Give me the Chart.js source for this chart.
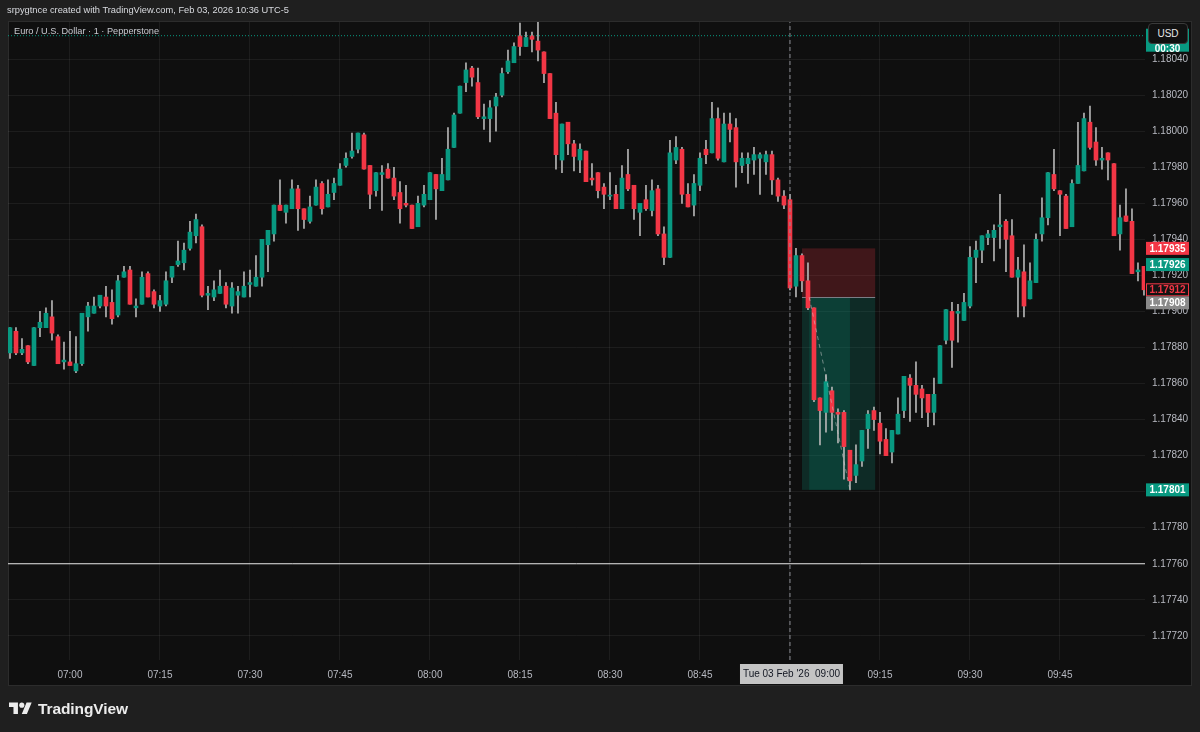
<!DOCTYPE html>
<html>
<head>
<meta charset="utf-8">
<script src="https://cdn.jsdelivr.net/npm/chart.js@4.4.1/dist/chart.umd.min.js"></script>
<style>
    html, body { margin: 0; padding: 0; background: #1f1f1f; }
    #wrap { position: relative; width: 1200px; height: 732px; overflow: hidden; }
    canvas { display: block; }
    .hdr { position: absolute; left: 7px; top: 5px; font: 9.3px 'Liberation Sans', Arial, sans-serif; color: #d9dbe0; white-space: nowrap; }
    .sym { position: absolute; left: 14px; top: 26px; font: 9.2px 'Liberation Sans', Arial, sans-serif; color: #c9cbd1; white-space: nowrap; }
    .usd { position: absolute; left: 1148px; top: 23px; width: 40px; height: 21px; box-sizing: border-box;
           border: 1px solid #3a3a3a; border-radius: 4px; background: #111111; color: #e6e6e6;
           font: 10px 'Liberation Sans', Arial, sans-serif; line-height: 19px; text-align: center; }
    .logo { position: absolute; left: 9px; top: 700px; display: flex; align-items: center; }
    .logo span { font: bold 15.5px 'Liberation Sans', Arial, sans-serif; color: #ececec; margin-left: 6px; letter-spacing: -0.1px; }
</style>
</head>
<body>
<div id="wrap">
    <canvas id="chart" width="1200" height="732"></canvas>
    <div class="hdr">srpygtnce created with TradingView.com, Feb 03, 2026 10:36 UTC-5</div>
    <div class="sym">Euro / U.S. Dollar · 1 · Pepperstone</div>
    <div class="usd">USD</div>
    <div class="logo">
        <svg width="23" height="18" viewBox="0 0 36 28"><path fill="#ececec" d="M14 22H7V11H0V4h14v18zM28 22h-8l7.5-18h8L28 22z"/><circle fill="#ececec" cx="20" cy="8" r="4"/></svg>
        <span>TradingView</span>
    </div>
</div>
<script>
// =============================
// EURUSD 1m candles, 06:50 -> 09:59
// =============================
const firstMinute = -10; // minutes relative to 07:00

const opens = [
    1.17877, 1.17889, 1.17877, 1.17881, 1.17870, 1.17891, 1.17891, 1.17897, 1.17886, 1.17872,
    1.17872, 1.17867, 1.17871, 1.17897, 1.17899, 1.17903, 1.17908, 1.17905, 1.17898, 1.17919,
    1.17923, 1.17902, 1.17904, 1.17921, 1.17911, 1.17903, 1.17904, 1.17919, 1.17926, 1.17927,
    1.17935, 1.17942, 1.17947, 1.17909, 1.17908, 1.17910, 1.17914, 1.17903, 1.17909, 1.17908,
    1.17915, 1.17914, 1.17919, 1.17937, 1.17943, 1.17959, 1.17955, 1.17957, 1.17968, 1.17957,
    1.17950, 1.17959, 1.17971, 1.17958, 1.17966, 1.17970, 1.17981, 1.17986, 1.17990, 1.17998,
    1.17981, 1.17967, 1.17976, 1.17979, 1.17974, 1.17966, 1.17960, 1.17959, 1.17947, 1.17959,
    1.17962, 1.17976, 1.17967, 1.17973, 1.17991, 1.18010, 1.18027, 1.18035, 1.18027, 1.18007,
    1.18007, 1.18014, 1.18020, 1.18033, 1.18038, 1.18053, 1.18047, 1.18053, 1.18050, 1.18044,
    1.18032, 1.18010, 1.17984, 1.18005, 1.17993, 1.17984, 1.17989, 1.17974, 1.17977, 1.17969,
    1.17964, 1.17965, 1.17957, 1.17976, 1.17970, 1.17955, 1.17962, 1.17956, 1.17968, 1.17943,
    1.17930, 1.17984, 1.17990, 1.17965, 1.17959, 1.17970, 1.17990, 1.17988, 1.18007, 1.17983,
    1.18004, 1.18002, 1.17981, 1.17982, 1.17984, 1.17985, 1.17983, 1.17987, 1.17973, 1.17964,
    1.17962, 1.17914, 1.17931, 1.17917, 1.17902, 1.17852, 1.17844, 1.17856, 1.17844, 1.17844,
    1.17823, 1.17809, 1.17817, 1.17835, 1.17845, 1.17838, 1.17829, 1.17822, 1.17832, 1.17845,
    1.17863, 1.17859, 1.17857, 1.17854, 1.17844, 1.17860, 1.17884, 1.17900, 1.17899, 1.17895,
    1.17903, 1.17930, 1.17934, 1.17941, 1.17941, 1.17947, 1.17950, 1.17942, 1.17919, 1.17922,
    1.17907, 1.17916, 1.17943, 1.17952, 1.17976, 1.17967, 1.17964, 1.17947, 1.17971, 1.17978,
    1.18005, 1.17994, 1.17984, 1.17988, 1.17982, 1.17943, 1.17953, 1.17950, 1.17922, 1.17925
];

const highs = [
    1.17891, 1.17891, 1.17885, 1.17881, 1.17891, 1.17900, 1.17902, 1.17906, 1.17887, 1.17883,
    1.17889, 1.17886, 1.17899, 1.17905, 1.17908, 1.17909, 1.17914, 1.17912, 1.17920, 1.17925,
    1.17925, 1.17907, 1.17922, 1.17922, 1.17912, 1.17909, 1.17922, 1.17925, 1.17939, 1.17938,
    1.17950, 1.17954, 1.17948, 1.17914, 1.17917, 1.17923, 1.17916, 1.17916, 1.17914, 1.17922,
    1.17923, 1.17931, 1.17940, 1.17945, 1.17959, 1.17973, 1.17959, 1.17973, 1.17970, 1.17957,
    1.17964, 1.17973, 1.17972, 1.17973, 1.17974, 1.17982, 1.17988, 1.17999, 1.17999, 1.17999,
    1.17981, 1.17977, 1.17981, 1.17982, 1.17980, 1.17972, 1.17970, 1.17959, 1.17964, 1.17970,
    1.17977, 1.17976, 1.17985, 1.18002, 1.18010, 1.18025, 1.18038, 1.18036, 1.18035, 1.18015,
    1.18017, 1.18021, 1.18035, 1.18045, 1.18049, 1.18060, 1.18055, 1.18055, 1.18061, 1.18044,
    1.18032, 1.18016, 1.18004, 1.18005, 1.17995, 1.17993, 1.17989, 1.17982, 1.17977, 1.17971,
    1.17977, 1.17970, 1.17981, 1.17990, 1.17970, 1.17960, 1.17970, 1.17973, 1.17970, 1.17947,
    1.17995, 1.17997, 1.17991, 1.17971, 1.17976, 1.17988, 1.17995, 1.18016, 1.18013, 1.18010,
    1.18010, 1.18007, 1.17988, 1.17988, 1.17991, 1.17988, 1.17989, 1.17989, 1.17974, 1.17967,
    1.17965, 1.17935, 1.17932, 1.17927, 1.17902, 1.17852, 1.17865, 1.17858, 1.17846, 1.17845,
    1.17823, 1.17826, 1.17834, 1.17845, 1.17847, 1.17844, 1.17835, 1.17834, 1.17852, 1.17864,
    1.17865, 1.17872, 1.17859, 1.17854, 1.17863, 1.17881, 1.17901, 1.17905, 1.17904, 1.17910,
    1.17936, 1.17939, 1.17942, 1.17945, 1.17948, 1.17965, 1.17951, 1.17951, 1.17930, 1.17937,
    1.17927, 1.17943, 1.17963, 1.17977, 1.17990, 1.17967, 1.17965, 1.17973, 1.18005, 1.18010,
    1.18014, 1.18002, 1.17991, 1.17988, 1.17982, 1.17959, 1.17968, 1.17957, 1.17927, 1.17925
];

const lows = [
    1.17874, 1.17876, 1.17876, 1.17871, 1.17870, 1.17886, 1.17891, 1.17884, 1.17871, 1.17868,
    1.17870, 1.17866, 1.17870, 1.17889, 1.17899, 1.17902, 1.17897, 1.17893, 1.17897, 1.17919,
    1.17904, 1.17897, 1.17904, 1.17908, 1.17902, 1.17900, 1.17903, 1.17916, 1.17925, 1.17923,
    1.17934, 1.17938, 1.17908, 1.17901, 1.17906, 1.17910, 1.17902, 1.17899, 1.17899, 1.17908,
    1.17908, 1.17914, 1.17914, 1.17922, 1.17939, 1.17956, 1.17949, 1.17957, 1.17945, 1.17946,
    1.17949, 1.17959, 1.17954, 1.17958, 1.17962, 1.17970, 1.17980, 1.17985, 1.17988, 1.17979,
    1.17957, 1.17964, 1.17956, 1.17974, 1.17962, 1.17949, 1.17958, 1.17946, 1.17947, 1.17958,
    1.17962, 1.17951, 1.17967, 1.17973, 1.17991, 1.18010, 1.18022, 1.18025, 1.18007, 1.18001,
    1.17994, 1.18000, 1.18019, 1.18032, 1.18038, 1.18042, 1.18047, 1.18044, 1.18039, 1.18027,
    1.18007, 1.17979, 1.17977, 1.17987, 1.17978, 1.17977, 1.17972, 1.17970, 1.17963, 1.17957,
    1.17962, 1.17957, 1.17957, 1.17967, 1.17951, 1.17942, 1.17956, 1.17953, 1.17942, 1.17926,
    1.17930, 1.17982, 1.17960, 1.17958, 1.17953, 1.17967, 1.17982, 1.17988, 1.17984, 1.17983,
    1.17994, 1.17969, 1.17977, 1.17971, 1.17976, 1.17965, 1.17976, 1.17965, 1.17961, 1.17957,
    1.17912, 1.17908, 1.17911, 1.17901, 1.17850, 1.17826, 1.17833, 1.17834, 1.17827, 1.17807,
    1.17801, 1.17805, 1.17814, 1.17824, 1.17834, 1.17821, 1.17820, 1.17816, 1.17832, 1.17841,
    1.17839, 1.17844, 1.17841, 1.17836, 1.17837, 1.17860, 1.17882, 1.17869, 1.17883, 1.17895,
    1.17902, 1.17916, 1.17927, 1.17937, 1.17928, 1.17935, 1.17922, 1.17919, 1.17897, 1.17897,
    1.17907, 1.17916, 1.17939, 1.17948, 1.17967, 1.17942, 1.17946, 1.17947, 1.17971, 1.17978,
    1.17990, 1.17981, 1.17979, 1.17973, 1.17942, 1.17934, 1.17950, 1.17921, 1.17917, 1.17909
];

const closes = [
    1.17891, 1.17877, 1.17879, 1.17872, 1.17891, 1.17894, 1.17899, 1.17888, 1.17871, 1.17873,
    1.17870, 1.17871, 1.17899, 1.17903, 1.17903, 1.17909, 1.17903, 1.17896, 1.17917, 1.17922,
    1.17904, 1.17903, 1.17919, 1.17908, 1.17904, 1.17906, 1.17917, 1.17925, 1.17928, 1.17934,
    1.17944, 1.17951, 1.17909, 1.17910, 1.17912, 1.17914, 1.17904, 1.17913, 1.17911, 1.17914,
    1.17916, 1.17919, 1.17940, 1.17945, 1.17959, 1.17956, 1.17959, 1.17968, 1.17957, 1.17951,
    1.17958, 1.17969, 1.17957, 1.17965, 1.17971, 1.17979, 1.17985, 1.17989, 1.17999, 1.17979,
    1.17965, 1.17977, 1.17977, 1.17974, 1.17964, 1.17957, 1.17959, 1.17946, 1.17960, 1.17965,
    1.17977, 1.17968, 1.17976, 1.17990, 1.18009, 1.18025, 1.18034, 1.18030, 1.18008, 1.18008,
    1.18013, 1.18019, 1.18032, 1.18039, 1.18047, 1.18047, 1.18052, 1.18051, 1.18045, 1.18032,
    1.18007, 1.17987, 1.18004, 1.17993, 1.17986, 1.17990, 1.17972, 1.17973, 1.17967, 1.17965,
    1.17964, 1.17957, 1.17974, 1.17968, 1.17957, 1.17960, 1.17957, 1.17967, 1.17943, 1.17930,
    1.17988, 1.17991, 1.17965, 1.17958, 1.17971, 1.17985, 1.17987, 1.18007, 1.17985, 1.18004,
    1.18001, 1.17983, 1.17985, 1.17985, 1.17987, 1.17987, 1.17987, 1.17973, 1.17964, 1.17959,
    1.17913, 1.17931, 1.17917, 1.17902, 1.17851, 1.17845, 1.17861, 1.17844, 1.17843, 1.17825,
    1.17806, 1.17815, 1.17834, 1.17843, 1.17840, 1.17828, 1.17820, 1.17834, 1.17843, 1.17864,
    1.17859, 1.17854, 1.17852, 1.17844, 1.17854, 1.17881, 1.17901, 1.17884, 1.17900, 1.17905,
    1.17930, 1.17934, 1.17942, 1.17943, 1.17945, 1.17948, 1.17940, 1.17919, 1.17923, 1.17903,
    1.17917, 1.17940, 1.17952, 1.17977, 1.17968, 1.17965, 1.17946, 1.17971, 1.17981, 1.18007,
    1.17991, 1.17984, 1.17985, 1.17984, 1.17942, 1.17952, 1.17950, 1.17921, 1.17923, 1.17912
];

// axis ticks
const timeTicks = ['07:00', '07:15', '07:30', '07:45', '08:00', '08:15', '08:30', '08:45', '09:00', '09:15', '09:30', '09:45'];
const priceTicks = [1.17720, 1.17740, 1.17760, 1.17780, 1.17800, 1.17820, 1.17840, 1.17860, 1.17880,
                    1.17900, 1.17920, 1.17940, 1.17960, 1.17980, 1.18000, 1.18020, 1.18040];

// drawings
const hLinePrice = 1.17760;
const alertPrice = 1.18053;
const crosshairMinute = 120; // 09:00
const crosshairText = "Tue 03 Feb '26  09:00";

// short position tool
const posStartMinute = 122;
const posEndMinute = 134.2;
const posStop = 1.17935;
const posEntry = 1.17908;
const posTarget = 1.17801;
const tradeOpenMinute = 123.2;
const tradeCloseMinute = 130;

// price scale markers
const priceMarkers = [
    { price: 1.17935, bg: '#f23645', fg: '#ffffff', border: null },
    { price: 1.17926, bg: '#089981', fg: '#ffffff', border: null },
    { price: 1.17912, bg: '#131313', fg: '#f23645', border: '#f23645' },
    { price: 1.17908, bg: '#8a8a8a', fg: '#ffffff', border: null },
    { price: 1.17801, bg: '#089981', fg: '#ffffff', border: null }
];

const upColor = '#089981';
const downColor = '#f23645';
const wickColor = '#b4b4b4';
const textColor = '#b8bac2';
const gridColor = 'rgba(255, 255, 255, 0.06)';

const xMin = -10.33;
const xMax = 179.17;
const yMin = 1.177066;
const yMax = 1.180606;

const barX = opens.map((_, i) => firstMinute + i);
const wickData = barX.map((x, i) => ({ x: x, y: [lows[i], highs[i]] }));
const bodyData = barX.map((x, i) => ({ x: x, y: [opens[i], closes[i]] }));
const bodyColors = closes.map((c, i) => (c >= opens[i] ? upColor : downColor));

Chart.defaults.font.family = "'Liberation Sans', Arial, sans-serif";
Chart.defaults.font.size = 10;

const panelPlugin = {
    id: 'panel',
    beforeDraw(chart) {
        const ctx = chart.ctx;
        ctx.save();
        ctx.fillStyle = '#0f0f0f';
        ctx.fillRect(8, 21, 1184, 665);
        ctx.strokeStyle = '#2c2c2c';
        ctx.lineWidth = 1;
        ctx.strokeRect(8.5, 21.5, 1183, 664);
        ctx.restore();
    },
    beforeDatasetsDraw(chart) {
        const { ctx, scales: { x, y } } = chart;
        const left = x.getPixelForValue(posStartMinute);
        const right = x.getPixelForValue(posEndMinute);
        const yStop = y.getPixelForValue(posStop);
        const yEntry = y.getPixelForValue(posEntry);
        const yTarget = y.getPixelForValue(posTarget);
        ctx.save();
        ctx.fillStyle = 'rgba(242, 54, 69, 0.22)';
        ctx.fillRect(left, yStop, right - left, yEntry - yStop);
        ctx.fillStyle = 'rgba(8, 153, 129, 0.2)';
        ctx.fillRect(left, yEntry, right - left, yTarget - yEntry);
        // covered part of the trade
        const a = x.getPixelForValue(tradeOpenMinute);
        const b = x.getPixelForValue(tradeCloseMinute);
        ctx.fillStyle = 'rgba(8, 153, 129, 0.18)';
        ctx.fillRect(a, yEntry, b - a, yTarget - yEntry);
        ctx.strokeStyle = '#7b7e86';
        ctx.beginPath();
        ctx.moveTo(left, Math.round(yEntry) + 0.5);
        ctx.lineTo(right, Math.round(yEntry) + 0.5);
        ctx.stroke();
        ctx.restore();
    },
    afterDraw(chart) {
        const { ctx, scales: { x, y } } = chart;
        ctx.save();
        ctx.font = "bold 10px 'Liberation Sans', Arial, sans-serif";
        ctx.textAlign = 'center';
        ctx.textBaseline = 'middle';

        // alert / countdown label, mostly hidden behind the currency button
        const ya = y.getPixelForValue(alertPrice);
        ctx.fillStyle = '#089981';
        ctx.fillRect(1146, ya - 7, 43, 23);
        ctx.fillStyle = '#ffffff';
        ctx.fillText('1.18053', 1167.5, ya);
        ctx.fillText('00:30', 1167.5, ya + 14);

        // price markers, pushed down when they overlap
        let lastBottom = -Infinity;
        priceMarkers.forEach(m => {
            let cy = y.getPixelForValue(m.price);
            if (cy - 6.5 < lastBottom) cy = lastBottom + 6.5;
            lastBottom = cy + 6.5;
            ctx.fillStyle = m.bg;
            ctx.fillRect(1146, cy - 6.5, 43, 13);
            if (m.border) {
                ctx.strokeStyle = m.border;
                ctx.lineWidth = 1;
                ctx.strokeRect(1146.5, cy - 6, 42, 12);
            }
            ctx.fillStyle = m.fg;
            ctx.fillText(m.price.toFixed(5), 1167.5, cy + 0.5);
        });

        // crosshair time label
        const cx = x.getPixelForValue(crosshairMinute);
        ctx.font = "10px 'Liberation Sans', Arial, sans-serif";
        ctx.fillStyle = '#c4c4c4';
        ctx.fillRect(cx - 50, 664, 103, 20);
        ctx.fillStyle = '#131722';
        ctx.fillText(crosshairText, cx + 1.5, 674.5);
        ctx.restore();
    }
};

new Chart(document.getElementById('chart'), {
    type: 'bar',
    data: {
        datasets: [
            {
                type: 'line',
                data: [{ x: xMin, y: hLinePrice }, { x: xMax, y: hLinePrice }],
                borderColor: '#e6e6e6',
                borderWidth: 1,
                pointRadius: 0,
                order: 0
            },
            {
                type: 'line',
                data: [{ x: xMin, y: alertPrice }, { x: xMax, y: alertPrice }],
                borderColor: '#089981',
                borderWidth: 1,
                borderDash: [1, 2],
                pointRadius: 0,
                order: 0
            },
            {
                type: 'line',
                data: [{ x: crosshairMinute, y: yMin }, { x: crosshairMinute, y: yMax }],
                borderColor: '#8c8f96',
                borderWidth: 1,
                borderDash: [4, 3],
                pointRadius: 0,
                order: 0
            },
            {
                type: 'line',
                data: [{ x: tradeOpenMinute, y: posEntry }, { x: tradeCloseMinute, y: posTarget }],
                borderColor: 'rgba(200, 200, 200, 0.55)',
                borderWidth: 1,
                borderDash: [4, 4],
                pointRadius: 0,
                order: 0
            },
            {
                label: 'body',
                data: bodyData,
                backgroundColor: bodyColors,
                borderWidth: 0,
                barThickness: 4,
                minBarLength: 1,
                grouped: false,
                order: 1
            },
            {
                label: 'wick',
                data: wickData,
                backgroundColor: wickColor,
                borderWidth: 0,
                barThickness: 1,
                grouped: false,
                order: 2
            }
        ]
    },
    options: {
        responsive: false,
        animation: false,
        events: [],
        layout: { padding: { left: 8, top: 22, right: 8, bottom: 46 } },
        plugins: {
            legend: { display: false },
            tooltip: { enabled: false }
        },
        scales: {
            x: {
                type: 'linear',
                offset: false,
                min: xMin,
                max: xMax,
                afterFit: s => { s.height = 26; },
                afterBuildTicks: s => { s.ticks = timeTicks.map((t, i) => ({ value: i * 15 })); },
                grid: { color: gridColor, drawTicks: false, offset: false },
                border: { display: false },
                ticks: {
                    color: textColor,
                    padding: 9,
                    autoSkip: false,
                    maxRotation: 0,
                    callback: (v, i) => timeTicks[i]
                }
            },
            y: {
                type: 'linear',
                position: 'right',
                min: yMin,
                max: yMax,
                afterFit: s => { s.width = 47; },
                afterBuildTicks: s => { s.ticks = priceTicks.map(v => ({ value: v })); },
                grid: { color: gridColor, drawTicks: false },
                border: { display: false },
                ticks: {
                    color: textColor,
                    padding: 7,
                    callback: v => v.toFixed(5)
                }
            }
        }
    },
    plugins: [panelPlugin]
});
</script>
</body>
</html>
